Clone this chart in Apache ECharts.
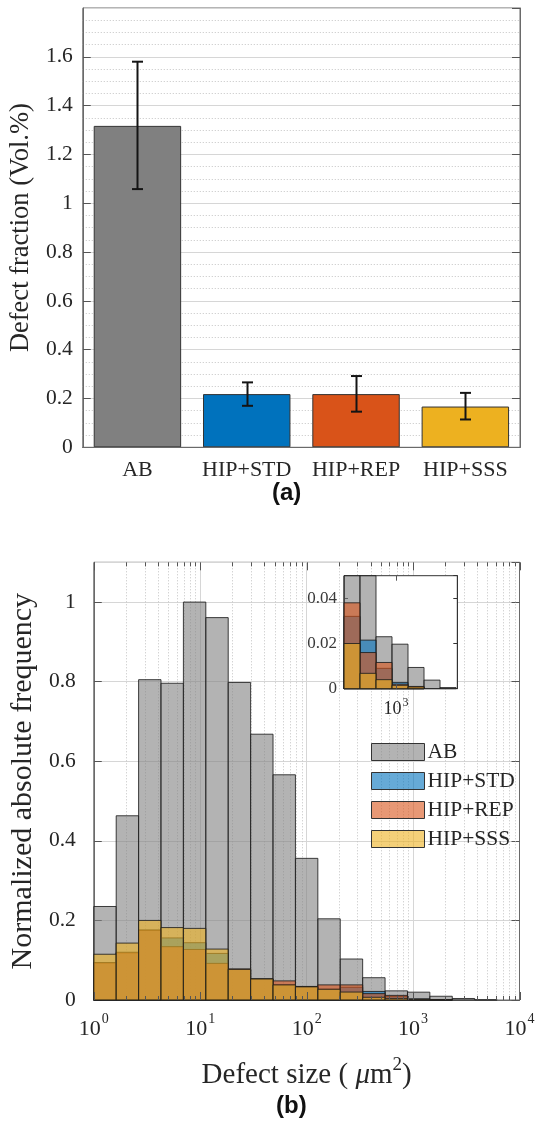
<!DOCTYPE html>
<html><head><meta charset="utf-8">
<script src="https://cdn.jsdelivr.net/npm/echarts@6/dist/echarts.min.js"></script>
<style>html,body{margin:0;padding:0;background:#fff}#c{width:538px;height:1126px}</style>
</head><body><div id="c"></div>
<script>
// ---------- Panel (a) data ----------
const barCategories = ['AB', 'HIP+STD', 'HIP+REP', 'HIP+SSS'];
const barValues = [1.317, 0.218, 0.218, 0.167];
const barErrLow = [1.058, 0.170, 0.146, 0.114];
const barErrHigh = [1.580, 0.266, 0.292, 0.223];
const barColors = ['#808080', '#0072BD', '#D95319', '#EDB120'];

// ---------- Panel (b) data ----------
const binEdges = [1, 1.624, 2.637, 4.281, 6.952, 11.29, 18.33, 29.76, 48.33, 78.48,
  127.4, 206.9, 336.0, 545.6, 885.9, 1438, 2336, 3793, 6158, 10000];
const histNames = ['AB', 'HIP+STD', 'HIP+REP', 'HIP+SSS'];
const histAB  = [0.235, 0.463, 0.805, 0.796, 1.0, 0.961, 0.798, 0.668, 0.566, 0.356, 0.204, 0.103, 0.056, 0.023, 0.0197, 0.0094, 0.0038, 0.0005, 0];
const histSTD = [0.093, 0.118, 0.175, 0.156, 0.144, 0.117, 0.077, 0.053, 0.038, 0.034, 0.027, 0.032, 0.0215, 0.009, 0.0028, 0.0005, 0, 0, 0];
const histREP = [0.094, 0.120, 0.176, 0.134, 0.127, 0.092, 0.078, 0.053, 0.048, 0.034, 0.038, 0.038, 0.016, 0.0116, 0.002, 0.001, 0, 0, 0];
const histSSS = [0.115, 0.143, 0.200, 0.182, 0.180, 0.128, 0.077, 0.053, 0.038, 0.033, 0.027, 0.020, 0.0068, 0.004, 0.0015, 0.0008, 0, 0, 0];
const histColors = ['rgba(128,128,128,0.6)', 'rgba(0,114,189,0.6)', 'rgba(217,83,25,0.6)', 'rgba(237,177,32,0.6)'];
const histValues = [histAB, histSTD, histREP, histSSS];

const decades = [1, 10, 100, 1000, 10000];
const minorTicks = [];
for (let e = 0; e < 4; e++) for (let d = 2; d <= 9; d++) minorTicks.push(d * Math.pow(10, e));

const SERIF = "'Liberation Serif', 'Times New Roman', serif";
const TXT = '#262626';
const AXC = '#6a6a6a';
const GRIDC = '#d6d6d6';

function binData(vals) { return vals.map((v, i) => [binEdges[i], binEdges[i + 1], v]); }

function renderHist(params, api) {
  const v = api.value(2);
  if (!(v > 0)) return;
  const p0 = api.coord([api.value(0), v]);
  const p1 = api.coord([api.value(1), 0]);
  const cs = params.coordSys;
  const shape = echarts.graphic.clipRectByRect(
    { x: p0[0], y: p0[1], width: p1[0] - p0[0], height: p1[1] - p0[1] },
    { x: cs.x, y: cs.y, width: cs.width, height: cs.height });
  if (!shape) return;
  return { type: 'rect', shape: shape,
    style: { fill: api.visual('color'), stroke: 'rgba(30,30,30,0.85)', lineWidth: 1 } };
}

function renderMinorGrid(params, api) {
  const x = Math.round(api.coord([api.value(0), 0])[0]) + 0.5;
  const cs = params.coordSys;
  return { type: 'line', shape: { x1: x, y1: cs.y, x2: x, y2: cs.y + cs.height },
    style: { stroke: '#c2c2c2', lineWidth: 1, lineDash: [1, 2] } };
}

function makeTickRenderer(len) {
  return function (params, api) {
    const x = Math.round(api.coord([api.value(0), 0])[0]) + 0.5;
    const cs = params.coordSys;
    const yb = cs.y + cs.height, yt = cs.y;
    return { type: 'group', children: [
      { type: 'line', shape: { x1: x, y1: yb, x2: x, y2: yb - len }, style: { stroke: '#555', lineWidth: 1 } },
      { type: 'line', shape: { x1: x, y1: yt, x2: x, y2: yt + len }, style: { stroke: '#555', lineWidth: 1 } }
    ] };
  };
}

function renderErr(params, api) {
  const lo = api.coord([api.value(0), api.value(1)]);
  const hi = api.coord([api.value(0), api.value(2)]);
  const x = Math.round(lo[0]) + 0.5;
  const hw = 5.5;
  const st = { stroke: '#141414', lineWidth: 2 };
  return { type: 'group', children: [
    { type: 'line', shape: { x1: x, y1: hi[1], x2: x, y2: lo[1] }, style: st },
    { type: 'line', shape: { x1: x - hw, y1: hi[1], x2: x + hw, y2: hi[1] }, style: st },
    { type: 'line', shape: { x1: x - hw, y1: lo[1], x2: x + hw, y2: lo[1] }, style: st }
  ] };
}

function logLabel(v) {
  const l = Math.log10(v), e = Math.round(l);
  if (Math.abs(l - e) > 0.01) return '';
  return '{b|10}{s|' + e + '}';
}

const chart = echarts.init(document.getElementById('c'), null, { renderer: 'canvas' });

const series = [];
// Panel (a)
series.push({
  type: 'bar', name: 'fraction', xAxisIndex: 0, yAxisIndex: 0, barWidth: '80%',
  data: barValues.map((v, i) => ({ value: v, itemStyle: { color: barColors[i] } })),
  itemStyle: { borderColor: '#333', borderWidth: 1 }, z: 2, silent: true
});
series.push({
  type: 'custom', name: 'err', xAxisIndex: 0, yAxisIndex: 0, z: 4, silent: true,
  renderItem: renderErr,
  data: barCategories.map((c, i) => [i, barErrLow[i], barErrHigh[i]])
});
// Panel (b) grid decorations
series.push({ type: 'custom', name: 'minorgrid', xAxisIndex: 2, yAxisIndex: 2, z: 1, silent: true,
  renderItem: renderMinorGrid, data: minorTicks.map(v => [v, 0]) });
series.push({ type: 'custom', name: 'minorticks', xAxisIndex: 2, yAxisIndex: 2, z: 5, silent: true,
  renderItem: makeTickRenderer(4), data: minorTicks.map(v => [v, 0]) });
series.push({ type: 'custom', name: 'majorticks', xAxisIndex: 2, yAxisIndex: 2, z: 5, silent: true,
  renderItem: makeTickRenderer(8), data: decades.map(v => [v, 0]) });
// Panel (b) histograms
histNames.forEach((n, k) => {
  series.push({ type: 'custom', name: n, xAxisIndex: 2, yAxisIndex: 2, z: 3 + k * 0.01, silent: true,
    itemStyle: { color: histColors[k] }, renderItem: renderHist,
    encode: { x: [0, 1], y: 2 }, data: binData(histValues[k]) });
});
// Inset histograms
histNames.forEach((n, k) => {
  series.push({ type: 'custom', name: n, xAxisIndex: 4, yAxisIndex: 4, z: 12 + k * 0.01, silent: true,
    itemStyle: { color: histColors[k] }, renderItem: renderHist,
    encode: { x: [0, 1], y: 2 }, data: binData(histValues[k]) });
});
series.push({ type: 'custom', name: 'insetticks', xAxisIndex: 4, yAxisIndex: 4, z: 13, silent: true,
  renderItem: makeTickRenderer(5), data: [[1000, 0]] });

const labelRich = {
  b: { fontFamily: SERIF, fontSize: 22, color: TXT, lineHeight: 28, verticalAlign: 'bottom' },
  s: { fontFamily: SERIF, fontSize: 14, color: TXT, lineHeight: 14, verticalAlign: 'top', padding: [0, 0, 0, 1] }
};
const labelRichSmall = {
  b: { fontFamily: SERIF, fontSize: 18, color: TXT, lineHeight: 22, verticalAlign: 'bottom' },
  s: { fontFamily: SERIF, fontSize: 12, color: TXT, lineHeight: 12, verticalAlign: 'top', padding: [0, 0, 0, 1] }
};

const option = {
  backgroundColor: '#fff',
  animation: false,
  grid: [
    { left: 80.7, top: 8, width: 439.3, height: 439.3, show: true, borderColor: AXC, borderWidth: 1, backgroundColor: '#fff' },
    { left: 81.7, top: 562.3, width: 437.8, height: 437.7, show: true, borderColor: AXC, borderWidth: 1, backgroundColor: '#fff' },
    { left: 344, top: 575.7, width: 113.3, height: 113, show: true, borderColor: '#333', borderWidth: 1, backgroundColor: '#fff', z: 10 }
  ],
  xAxis: [
    { type: 'category', gridIndex: 0, data: barCategories, position: 'bottom', z: 5,
      axisLine: { lineStyle: { color: AXC } },
      axisTick: { inside: true, alignWithLabel: true, length: 8, lineStyle: { color: '#555' } },
      axisLabel: { fontFamily: SERIF, fontSize: 22, color: TXT, margin: 12, interval: 0, hideOverlap: false },
      splitLine: { show: false } },
    { type: 'category', gridIndex: 0, data: barCategories, position: 'top', z: 5,
      axisLine: { lineStyle: { color: AXC } },
      axisTick: { inside: true, alignWithLabel: true, length: 8, lineStyle: { color: '#555' } },
      axisLabel: { show: false }, splitLine: { show: false } },
    { type: 'log', gridIndex: 1, logBase: 10, min: 1, max: 10000, position: 'bottom',
      axisLine: { lineStyle: { color: AXC } }, axisTick: { show: false },
      axisLabel: { formatter: logLabel, rich: labelRich, margin: 12 },
      splitLine: { show: true, lineStyle: { color: GRIDC, width: 1 } } },
    { type: 'log', gridIndex: 1, logBase: 10, min: 1, max: 10000, position: 'top',
      axisLine: { lineStyle: { color: AXC } }, axisTick: { show: false },
      axisLabel: { show: false }, splitLine: { show: false } },
    { type: 'log', gridIndex: 2, logBase: 10, min: 207, max: 6400, position: 'bottom', z: 11,
      axisLine: { lineStyle: { color: '#333' } }, axisTick: { show: false },
      axisLabel: { formatter: logLabel, rich: labelRichSmall, margin: 8, showMinLabel: false, showMaxLabel: false },
      splitLine: { show: false } },
    { type: 'log', gridIndex: 2, logBase: 10, min: 207, max: 6400, position: 'top', z: 11,
      axisLine: { lineStyle: { color: '#333' } }, axisTick: { show: false },
      axisLabel: { show: false }, splitLine: { show: false } }
  ],
  yAxis: [
    { type: 'value', gridIndex: 0, min: 0, max: 1.8, interval: 0.2, position: 'left',
      name: 'Defect fraction (Vol.%)', nameLocation: 'middle', nameRotate: 90, nameGap: 46,
      nameTextStyle: { fontFamily: SERIF, fontSize: 26.5, color: TXT },
      axisLine: { show: true, lineStyle: { color: AXC } },
      axisTick: { show: true, inside: true, length: 8, lineStyle: { color: '#555' } },
      axisLabel: { fontFamily: SERIF, fontSize: 21.5, color: TXT, margin: 10, showMaxLabel: false },
      splitLine: { show: true, lineStyle: { color: GRIDC, width: 1 } },
      minorTick: { show: false, splitNumber: 4 },
      minorSplitLine: { show: true, lineStyle: { color: '#c4c4c4', width: 1, type: [1, 2] } } },
    { type: 'value', gridIndex: 0, min: 0, max: 1.8, interval: 0.2, position: 'right',
      axisLine: { show: true, lineStyle: { color: AXC } },
      axisTick: { show: true, inside: true, length: 8, lineStyle: { color: '#555' } },
      axisLabel: { show: false }, splitLine: { show: false } },
    { type: 'value', gridIndex: 1, min: 0, max: 1.1, interval: 0.2, position: 'left',
      name: 'Normalized absolute frequency', nameLocation: 'middle', nameRotate: 90, nameGap: 42,
      nameTextStyle: { fontFamily: SERIF, fontSize: 30, color: TXT },
      axisLine: { show: true, lineStyle: { color: AXC } },
      axisTick: { show: true, inside: true, length: 8, lineStyle: { color: '#555' } },
      axisLabel: { fontFamily: SERIF, fontSize: 21.5, color: TXT, margin: 18, showMaxLabel: false },
      splitLine: { show: true, lineStyle: { color: GRIDC, width: 1 } } },
    { type: 'value', gridIndex: 1, min: 0, max: 1.1, interval: 0.2, position: 'right',
      axisLine: { show: true, lineStyle: { color: AXC } },
      axisTick: { show: true, inside: true, length: 8, lineStyle: { color: '#555' } },
      axisLabel: { show: false }, splitLine: { show: false } },
    { type: 'value', gridIndex: 2, min: 0, max: 0.05, interval: 0.02, position: 'left', z: 11,
      axisLine: { show: true, lineStyle: { color: '#333' } },
      axisTick: { show: true, inside: true, length: 4, lineStyle: { color: '#333' } },
      axisLabel: { fontFamily: SERIF, fontSize: 17, color: '#3a3a3a', margin: 7, showMaxLabel: false },
      splitLine: { show: false } },
    { type: 'value', gridIndex: 2, min: 0, max: 0.05, interval: 0.02, position: 'right', z: 11,
      axisLine: { show: true, lineStyle: { color: '#333' } },
      axisTick: { show: true, inside: true, length: 4, lineStyle: { color: '#333' } },
      axisLabel: { show: false }, splitLine: { show: false } }
  ],
  legend: {
    left: 366, top: 736, orient: 'vertical', itemWidth: 53, itemHeight: 17, itemGap: 7,
    icon: 'rect', selectedMode: false, z: 20,
    itemStyle: { borderColor: '#333', borderWidth: 1 },
    textStyle: { fontFamily: SERIF, fontSize: 21.5, color: TXT, padding: [0, 0, 0, -2] },
    data: histNames
  },
  graphic: [
    { type: 'text', left: 272, top: 481, style: { text: '(a)', font: "bold 24px 'Liberation Sans', Arial, sans-serif", fill: '#111' }, z: 30 },
    { type: 'text', left: 276, top: 1094, style: { text: '(b)', font: "bold 24px 'Liberation Sans', Arial, sans-serif", fill: '#111' }, z: 30 }
  ],
  series: series
};
option.xAxis[2].name = '{t|Defect size (}{i| μ}{t|m}{s|2}{t|)}';
option.xAxis[2].nameLocation = 'middle';
option.xAxis[2].nameGap = 56;
option.xAxis[2].nameTextStyle = { rich: {
  t: { fontFamily: SERIF, fontSize: 29, color: TXT, lineHeight: 34, verticalAlign: 'bottom' },
  i: { fontFamily: SERIF, fontStyle: 'italic', fontSize: 29, color: TXT, lineHeight: 34, verticalAlign: 'bottom' },
  s: { fontFamily: SERIF, fontSize: 19, color: TXT, lineHeight: 19, verticalAlign: 'top' }
} };
chart.setOption(option);
</script></body></html>
